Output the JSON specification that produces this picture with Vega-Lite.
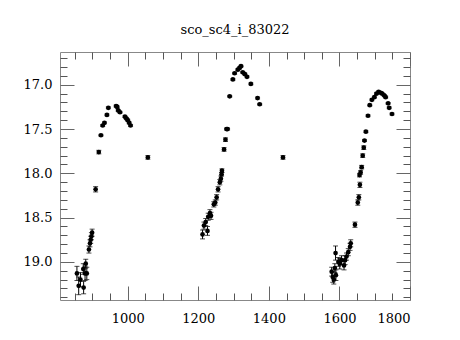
{
  "$schema": "https://vega.github.io/schema/vega-lite/v6.json",
  "autosize": "none",
  "width": 350,
  "height": 248,
  "padding": {"left": 60, "top": 52, "right": 50, "bottom": 40},
  "background": "white",
  "title": {"text": "sco_sc4_i_83022", "font": "DejaVu Serif", "fontSize": 13, "fontWeight": "normal", "color": "black", "offset": 15},
  "config": {
    "view": {"stroke": "#888", "strokeWidth": 1},
    "axis": {"domain": false, "grid": false, "ticks": true, "tickOpacity": 1, "tickWidth": 1, "tickDash": [], "labelFont": "DejaVu Serif", "labelFontSize": 13, "labelColor": "black", "tickColor": "#666", "title": null}
  },
  "data": {"values": [
    {"jd": 856, "mag": 19.13, "err": 0.08},
    {"jd": 861, "mag": 19.27, "err": 0.1},
    {"jd": 866, "mag": 19.2, "err": 0.08},
    {"jd": 875, "mag": 19.29, "err": 0.07},
    {"jd": 874, "mag": 19.08, "err": 0.06},
    {"jd": 879, "mag": 19.13, "err": 0.08},
    {"jd": 881, "mag": 19.02, "err": 0.05},
    {"jd": 884, "mag": 19.13, "err": 0.07},
    {"jd": 890, "mag": 18.86, "err": 0.04},
    {"jd": 893, "mag": 18.79, "err": 0.04},
    {"jd": 895, "mag": 18.75, "err": 0.04},
    {"jd": 897, "mag": 18.71, "err": 0.04},
    {"jd": 899, "mag": 18.67, "err": 0.04},
    {"jd": 909, "mag": 18.18, "err": 0.03},
    {"jd": 918, "mag": 17.76, "err": 0.02},
    {"jd": 924, "mag": 17.57, "err": 0.01},
    {"jd": 929, "mag": 17.46, "err": 0.01},
    {"jd": 934, "mag": 17.43, "err": 0.01},
    {"jd": 941, "mag": 17.34, "err": 0.01},
    {"jd": 945, "mag": 17.26, "err": 0.01},
    {"jd": 967, "mag": 17.24, "err": 0.01},
    {"jd": 970, "mag": 17.25, "err": 0.01},
    {"jd": 973, "mag": 17.29, "err": 0.01},
    {"jd": 978, "mag": 17.31, "err": 0.01},
    {"jd": 992, "mag": 17.36, "err": 0.01},
    {"jd": 996, "mag": 17.38, "err": 0.01},
    {"jd": 1000, "mag": 17.4, "err": 0.01},
    {"jd": 1004, "mag": 17.43, "err": 0.01},
    {"jd": 1008, "mag": 17.46, "err": 0.01},
    {"jd": 1057, "mag": 17.82, "err": 0.02},
    {"jd": 1212, "mag": 18.69, "err": 0.05},
    {"jd": 1216, "mag": 18.59, "err": 0.04},
    {"jd": 1221, "mag": 18.55, "err": 0.04},
    {"jd": 1226, "mag": 18.65, "err": 0.05},
    {"jd": 1228, "mag": 18.49, "err": 0.04},
    {"jd": 1233, "mag": 18.45, "err": 0.04},
    {"jd": 1236, "mag": 18.48, "err": 0.04},
    {"jd": 1244, "mag": 18.35, "err": 0.03},
    {"jd": 1248, "mag": 18.33, "err": 0.03},
    {"jd": 1252, "mag": 18.27, "err": 0.03},
    {"jd": 1256, "mag": 18.18, "err": 0.03},
    {"jd": 1261, "mag": 18.1, "err": 0.03},
    {"jd": 1264, "mag": 18.06, "err": 0.03},
    {"jd": 1266, "mag": 18.01, "err": 0.02},
    {"jd": 1267, "mag": 17.97, "err": 0.02},
    {"jd": 1273, "mag": 17.73, "err": 0.02},
    {"jd": 1277, "mag": 17.62, "err": 0.02},
    {"jd": 1280, "mag": 17.5, "err": 0.01},
    {"jd": 1283, "mag": 17.5, "err": 0.01},
    {"jd": 1289, "mag": 17.13, "err": 0.01},
    {"jd": 1298, "mag": 16.94, "err": 0.01},
    {"jd": 1303, "mag": 16.87, "err": 0.01},
    {"jd": 1312, "mag": 16.83, "err": 0.01},
    {"jd": 1317, "mag": 16.81, "err": 0.01},
    {"jd": 1321, "mag": 16.79, "err": 0.01},
    {"jd": 1326, "mag": 16.86, "err": 0.01},
    {"jd": 1332, "mag": 16.88, "err": 0.01},
    {"jd": 1338, "mag": 16.91, "err": 0.01},
    {"jd": 1349, "mag": 16.99, "err": 0.01},
    {"jd": 1368, "mag": 17.15, "err": 0.01},
    {"jd": 1374, "mag": 17.22, "err": 0.01},
    {"jd": 1440, "mag": 17.82, "err": 0.02},
    {"jd": 1578, "mag": 19.11, "err": 0.05},
    {"jd": 1581, "mag": 19.17, "err": 0.06},
    {"jd": 1584, "mag": 19.2, "err": 0.05},
    {"jd": 1587, "mag": 19.07, "err": 0.05},
    {"jd": 1590, "mag": 19.15, "err": 0.06},
    {"jd": 1589, "mag": 18.9, "err": 0.08},
    {"jd": 1597, "mag": 19.0, "err": 0.05},
    {"jd": 1601, "mag": 19.02, "err": 0.06},
    {"jd": 1606, "mag": 18.98, "err": 0.05},
    {"jd": 1613, "mag": 19.04, "err": 0.05},
    {"jd": 1616, "mag": 18.98, "err": 0.05},
    {"jd": 1620, "mag": 18.94, "err": 0.04},
    {"jd": 1625, "mag": 18.89, "err": 0.04},
    {"jd": 1630, "mag": 18.83, "err": 0.04},
    {"jd": 1632, "mag": 18.79, "err": 0.04},
    {"jd": 1644, "mag": 18.58, "err": 0.03},
    {"jd": 1652, "mag": 18.33, "err": 0.03},
    {"jd": 1655, "mag": 18.27, "err": 0.03},
    {"jd": 1658, "mag": 18.13, "err": 0.03},
    {"jd": 1657, "mag": 18.02, "err": 0.02},
    {"jd": 1660, "mag": 17.99, "err": 0.02},
    {"jd": 1663, "mag": 17.93, "err": 0.02},
    {"jd": 1666, "mag": 17.8, "err": 0.02},
    {"jd": 1669, "mag": 17.71, "err": 0.02},
    {"jd": 1671, "mag": 17.63, "err": 0.01},
    {"jd": 1675, "mag": 17.53, "err": 0.01},
    {"jd": 1681, "mag": 17.35, "err": 0.01},
    {"jd": 1686, "mag": 17.23, "err": 0.01},
    {"jd": 1692, "mag": 17.17, "err": 0.01},
    {"jd": 1699, "mag": 17.14, "err": 0.01},
    {"jd": 1705, "mag": 17.1, "err": 0.01},
    {"jd": 1711, "mag": 17.08, "err": 0.01},
    {"jd": 1717, "mag": 17.09, "err": 0.01},
    {"jd": 1721, "mag": 17.1, "err": 0.01},
    {"jd": 1727, "mag": 17.12, "err": 0.01},
    {"jd": 1731, "mag": 17.14, "err": 0.01},
    {"jd": 1738, "mag": 17.21, "err": 0.01},
    {"jd": 1741, "mag": 17.26, "err": 0.01},
    {"jd": 1749, "mag": 17.33, "err": 0.01}
  ]},
  "resolve": {"axis": {"x": "independent", "y": "independent"}},
  "layer": [
    {
      "mark": {"type": "errorbar", "ticks": {"size": 5, "color": "black"}, "color": "black", "thickness": 1},
      "encoding": {
        "x": {"field": "jd", "type": "quantitative", "title": null, "scale": {"domain": [808, 1800], "nice": false, "zero": false},
              "axis": {"orient": "bottom", "title": null, "format": "d", "values": [1000, 1200, 1400, 1600, 1800], "ticks": true, "tickWidth": 1, "tickOpacity": 1, "tickColor": "#666", "offset": -14, "tickSize": 14, "labelPadding": 12, "labelBaseline": "top"}},
        "y": {"field": "mag", "type": "quantitative", "title": null, "scale": {"domain": [16.63, 19.43], "reverse": true, "nice": false, "zero": false},
              "axis": {"orient": "left", "title": null, "values": [17, 17.5, 18, 18.5, 19], "ticks": true, "tickWidth": 1, "tickOpacity": 1, "tickColor": "#666", "offset": -14, "tickSize": 14, "labelPadding": 8}},
        "yError": {"field": "err"}
      }
    },
    {
      "mark": {"type": "point", "filled": true, "shape": "circle", "size": 22, "color": "black", "opacity": 1},
      "encoding": {
        "x": {"field": "jd", "type": "quantitative",
              "axis": {"orient": "top", "values": [1000, 1200, 1400, 1600, 1800], "ticks": true, "tickWidth": 1, "tickOpacity": 1, "tickColor": "#666", "offset": -14, "tickSize": 14, "labels": false}},
        "y": {"field": "mag", "type": "quantitative",
              "axis": {"orient": "right", "values": [17, 17.5, 18, 18.5, 19], "ticks": true, "tickWidth": 1, "tickOpacity": 1, "tickColor": "#666", "offset": -14, "tickSize": 14, "labels": false}}
      }
    },
    {
      "mark": {"type": "point", "opacity": 0},
      "encoding": {
        "x": {"field": "jd", "type": "quantitative",
              "axis": {"orient": "bottom", "values": [850, 900, 950, 1050, 1100, 1150, 1250, 1300, 1350, 1450, 1500, 1550, 1650, 1700, 1750], "ticks": true, "tickWidth": 1, "tickOpacity": 1, "tickColor": "#555", "offset": -7, "tickSize": 7, "labels": false}},
        "y": {"field": "mag", "type": "quantitative",
              "axis": {"orient": "left", "values": [16.7, 16.8, 16.9, 17.1, 17.2, 17.3, 17.4, 17.6, 17.7, 17.8, 17.9, 18.1, 18.2, 18.3, 18.4, 18.6, 18.7, 18.8, 18.9, 19.1, 19.2, 19.3, 19.4], "ticks": true, "tickWidth": 1, "tickOpacity": 1, "tickColor": "#555", "offset": -7, "tickSize": 7, "labels": false}}
      }
    },
    {
      "mark": {"type": "point", "opacity": 0},
      "encoding": {
        "x": {"field": "jd", "type": "quantitative",
              "axis": {"orient": "top", "values": [850, 900, 950, 1050, 1100, 1150, 1250, 1300, 1350, 1450, 1500, 1550, 1650, 1700, 1750], "ticks": true, "tickWidth": 1, "tickOpacity": 1, "tickColor": "#555", "offset": -7, "tickSize": 7, "labels": false}},
        "y": {"field": "mag", "type": "quantitative",
              "axis": {"orient": "right", "values": [16.7, 16.8, 16.9, 17.1, 17.2, 17.3, 17.4, 17.6, 17.7, 17.8, 17.9, 18.1, 18.2, 18.3, 18.4, 18.6, 18.7, 18.8, 18.9, 19.1, 19.2, 19.3, 19.4], "ticks": true, "tickWidth": 1, "tickOpacity": 1, "tickColor": "#555", "offset": -7, "tickSize": 7, "labels": false}}
      }
    }
  ]
}
